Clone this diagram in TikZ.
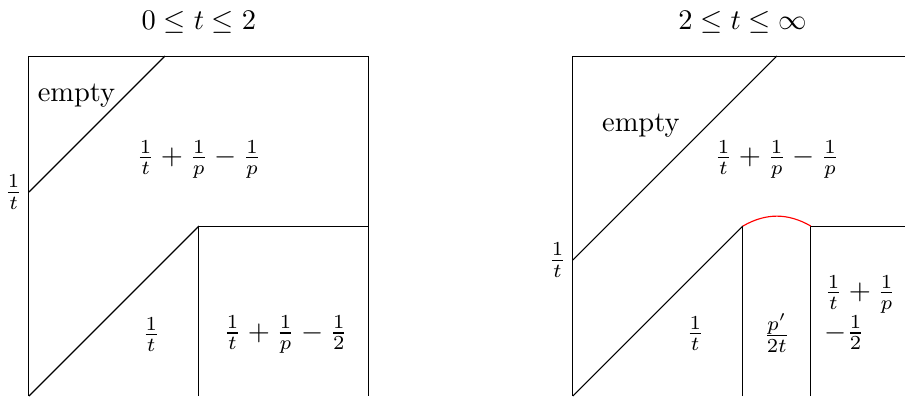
\documentclass[tikz,border=0pt]{standalone}
\usepackage{amsmath, amssymb}
\usetikzlibrary{positioning, calc}
\tikzset{
	region/.style={inner sep=1pt},
	ticklabel/.style={left, inner sep=2pt},
	boundary/.style={draw, black},
	curve/.style={draw, red}
}

\begin{document}
\begin{tikzpicture}[x=0.42cm, y=0.42cm]
	\useasboundingbox (0,0) rectangle (26.62,11.65);
	\clip (0,0) rectangle (26.62,11.65);

	% Left panel: 0 <= t <= 2
	\begin{scope}[shift={(0.85,0)}]
		\node (titleA) at (5, 11) {$0 \leq t \leq 2$};
		\coordinate (A1) at (0,6);
		\coordinate (A2) at (4,10);
		\coordinate (A3) at (5,5);
		% outer box (no bottom edge)
		\draw[boundary] (0,0) -- (0,10) -- (10,10) -- (10,0);
		% diagonals
		\draw[boundary] (A1) -- (A2);
		\draw[boundary] (0,0) -- (A3);
		% lower right block
		\draw[boundary] (5,0) -- (A3) -- (10,5);
		% labels
		\node[ticklabel] (tickA) at (A1) {$\frac{1}{t}$};
		\node[region] (emptyA) at (1.4, 8.85) {empty};
		\node[region] (upperA) at (5, 6.95) {$\frac{1}{t} + \frac{1}{p} - \frac{1}{p}$};
		\node[region] (diagA) at (3.6, 1.8) {$\frac{1}{t}$};
		\node[region] (cornerA) at (7.55, 1.8) {$\frac{1}{t} + \frac{1}{p} - \frac{1}{2}$};
	\end{scope}

	% Right panel: 2 <= t <= infinity
	\begin{scope}[shift={(16.85,0)}]
		\node (titleB) at (5, 11) {$2 \leq t \leq \infty$};
		\coordinate (B1) at (0,4);
		\coordinate (B2) at (6,10);
		\coordinate (B3) at (5,5);
		\coordinate (B4) at (7,5);
		% outer box (cut off on the right)
		\draw[boundary] (0,0) -- (0,10) -- (12,10);
		% diagonals
		\draw[boundary] (B1) -- (B2);
		\draw[boundary] (0,0) -- (B3);
		% strip and lower right block
		\draw[boundary] (5,0) -- (B3);
		\draw[boundary] (7,0) -- (B4) -- (12,5);
		\draw[curve] (B3) to[bend left=30] (B4);
		% labels
		\node[ticklabel] (tickB) at (B1) {$\frac{1}{t}$};
		\node[region] (emptyB) at (2, 7.95) {empty};
		\node[region] (upperB) at (6, 6.95) {$\frac{1}{t} + \frac{1}{p} - \frac{1}{p}$};
		\node[region] (diagB) at (3.6, 1.85) {$\frac{1}{t}$};
		\node[region] (stripB) at (6, 1.85) {$\frac{p'}{2t}$};
		\node[region, align=left] (cornerB) at (8.45, 2.45) {$\frac{1}{t} + \frac{1}{p}$\\$-\frac{1}{2}$};
	\end{scope}
\end{tikzpicture}
\end{document}
